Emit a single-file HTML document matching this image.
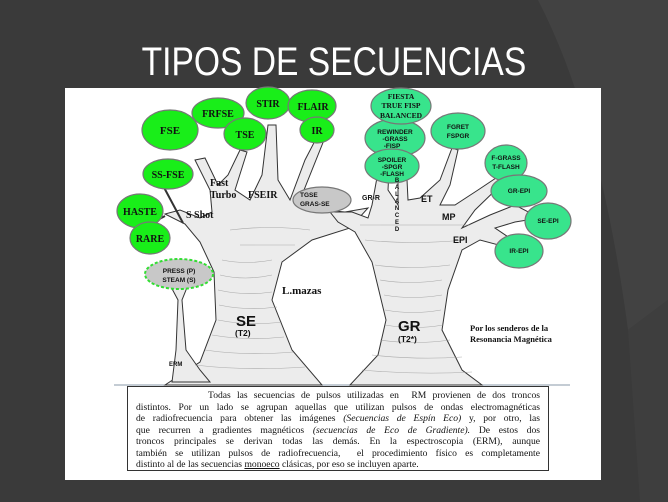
<!DOCTYPE html>
<html><head><meta charset="utf-8"><style>
html,body{margin:0;padding:0;}
body{width:668px;height:502px;background:#3a3a3a;position:relative;overflow:hidden;font-family:"Liberation Sans",sans-serif;}
.title{position:absolute;left:0;width:668px;top:40px;text-align:center;color:#fff;font-size:40px;line-height:44px;}
.title span{display:inline-block;transform:scaleX(0.84);}
.box{position:absolute;left:127px;top:386px;width:404px;height:77px;border:1.5px solid #333;padding:3px 8px 3px 8px;font-family:"Liberation Serif",serif;font-size:9.6px;line-height:11.5px;color:#111;background:#fff;}
.box div{text-align:justify;text-align-last:justify;white-space:nowrap;}
.box div.l{text-align-last:left;}
</style></head><body>
<svg width="668" height="502" style="position:absolute;left:0;top:0">
<path d="M538,0 Q600,120 628,330 L668,300 L668,0 Z" fill="#424242"/>
<path d="M628,330 L668,300 L668,502 L640,502 Z" fill="#3e3e3e"/>
<rect x="65" y="88" width="536" height="392" fill="#fff"/>
<line x1="114" y1="385" x2="570" y2="385" stroke="#8899aa" stroke-width="1"/>
<g stroke="#333" stroke-width="1" fill="#ececec">
<path d="M165,385 L200,362 L216,320 L214,272 L200,242 L185,224 L165,214 L180,210 L200,218 L212,212 L210,190 L195,160 L205,158 L218,185 L228,175 L240,150 L247,152 L235,190 L250,200 L262,175 L268,125 L276,125 L278,180 L290,200 L305,160 L318,135 L324,140 L300,200 L325,210 L345,212 L368,208 L350,228 L312,240 L282,262 L272,300 L292,350 L322,385 Z"/>
<path d="M160,212 L130,205 M165,216 L135,232 M183,223 L160,180" fill="none" stroke-width="2"/>
<path d="M172,382 L176,350 L178,300 L170,285 L188,285 L182,300 L186,350 L200,370 L210,382 Z"/>
<path d="M350,385 L378,355 L386,320 L372,262 L355,232 L338,222 L330,212 L352,212 L368,218 L372,205 L382,150 L390,150 L388,190 L398,205 L398,118 L404,118 L408,200 L420,198 L440,180 L452,148 L458,150 L450,185 L440,205 L455,205 L478,190 L505,172 L508,178 L475,210 L462,228 L490,215 L515,205 L540,218 L515,222 L495,228 L520,245 L510,248 L480,240 L462,250 L448,290 L442,330 L462,370 L482,385 Z"/>
</g>
<g stroke="#999" stroke-width="0.6" fill="none" opacity="0.8">
<path d="M222,260 q25,5 50,0 M220,275 q25,6 52,0 M218,290 q26,6 54,2 M219,305 q28,6 58,2 M218,320 q30,6 64,2 M212,335 q35,6 72,2 M205,350 q40,6 88,2 M195,365 q50,6 110,2 M230,230 q40,-5 80,0 M240,245 q30,0 55,0"/>
<path d="M375,265 q35,5 75,0 M380,280 q30,5 62,0 M384,295 q28,5 58,0 M385,310 q28,5 56,0 M385,325 q30,5 58,0 M380,340 q35,5 70,0 M372,355 q45,5 90,2 M362,370 q55,5 110,2 M365,240 q45,5 100,0 M360,225 q50,0 110,0"/>
</g>
<g stroke="#777" stroke-width="1.2">
<g fill="#19ee19">
<ellipse cx="170" cy="130" rx="28" ry="20"/>
<ellipse cx="218" cy="113" rx="26" ry="15"/>
<ellipse cx="245" cy="134" rx="21" ry="16"/>
<ellipse cx="268" cy="103" rx="22" ry="16"/>
<ellipse cx="312" cy="106" rx="24" ry="16"/>
<ellipse cx="317" cy="130" rx="17" ry="13"/>
<ellipse cx="168" cy="174" rx="25" ry="15"/>
<ellipse cx="140" cy="211" rx="23" ry="17"/>
<ellipse cx="150" cy="238" rx="20" ry="16"/>
</g>
<g fill="#38e48c">
<ellipse cx="395" cy="138" rx="30" ry="19"/>
<ellipse cx="392" cy="166" rx="27" ry="17"/>
<ellipse cx="401" cy="106" rx="30" ry="18"/>
<ellipse cx="458" cy="131" rx="27" ry="18"/>
<ellipse cx="506" cy="163" rx="21" ry="18"/>
<ellipse cx="519" cy="191" rx="28" ry="16"/>
<ellipse cx="548" cy="221" rx="23" ry="18"/>
<ellipse cx="519" cy="251" rx="24" ry="17"/>
</g>
<g fill="#c8c8c8">
<ellipse cx="322" cy="200" rx="29" ry="13"/>
<ellipse cx="179" cy="274" rx="34" ry="15" stroke="#33dd33" stroke-dasharray="3,2" stroke-width="2"/>
</g>
</g>
<g font-family="Liberation Serif,serif" font-weight="bold" fill="#111">
<text x="170" y="134" font-size="11" text-anchor="middle">FSE</text>
<text x="218" y="117" font-size="10" text-anchor="middle">FRFSE</text>
<text x="245" y="138" font-size="10" text-anchor="middle">TSE</text>
<text x="268" y="107" font-size="10" text-anchor="middle">STIR</text>
<text x="313" y="110" font-size="10" text-anchor="middle">FLAIR</text>
<text x="317" y="134" font-size="10" text-anchor="middle">IR</text>
<text x="168" y="178" font-size="10" text-anchor="middle">SS-FSE</text>
<text x="140" y="215" font-size="10" text-anchor="middle">HASTE</text>
<text x="150" y="242" font-size="10" text-anchor="middle">RARE</text>
<text x="210" y="186" font-size="10">Fast</text>
<text x="210" y="198" font-size="10">Turbo</text>
<text x="248" y="198" font-size="10">FSEIR</text>
<text x="186" y="218" font-size="10">S Shot</text>
<text x="282" y="294" font-size="11">L.mazas</text>
<text x="470" y="331" font-size="8.5">Por los senderos de la</text>
<text x="470" y="342" font-size="8.5">Resonancia Magnética</text>
<text x="401" y="99" font-size="7.5" text-anchor="middle">FIESTA</text>
<text x="401" y="108" font-size="7.5" text-anchor="middle">TRUE FISP</text>
<text x="401" y="118" font-size="7.5" text-anchor="middle">BALANCED</text>
</g>
<g font-family="Liberation Sans,sans-serif" font-weight="bold" fill="#111">
<text x="395" y="134" font-size="6.5" text-anchor="middle">REWINDER</text>
<text x="395" y="141" font-size="6.5" text-anchor="middle">-GRASS</text>
<text x="392" y="148" font-size="6.5" text-anchor="middle">-FISP</text>
<text x="392" y="162" font-size="6.5" text-anchor="middle">SPOILER</text>
<text x="392" y="169" font-size="6.5" text-anchor="middle">-SPGR</text>
<text x="392" y="176" font-size="6.5" text-anchor="middle">-FLASH</text>
<text x="458" y="129" font-size="6.5" text-anchor="middle">FGRET</text>
<text x="458" y="138" font-size="6.5" text-anchor="middle">FSPGR</text>
<text x="506" y="160" font-size="6.5" text-anchor="middle">F-GRASS</text>
<text x="506" y="169" font-size="6.5" text-anchor="middle">T-FLASH</text>
<text x="519" y="193" font-size="6.5" text-anchor="middle">GR-EPI</text>
<text x="548" y="223" font-size="6.5" text-anchor="middle">SE-EPI</text>
<text x="519" y="253" font-size="6.5" text-anchor="middle">IR-EPI</text>
<text x="300" y="197" font-size="6.5">TGSE</text>
<text x="300" y="206" font-size="6.5">GRAS-SE</text>
<text x="179" y="273" font-size="6.5" text-anchor="middle">PRESS (P)</text>
<text x="179" y="282" font-size="6.5" text-anchor="middle">STEAM (S)</text>
<text x="362" y="200" font-size="7">GR-R</text>
<text x="421" y="202" font-size="9">ET</text>
<text x="442" y="220" font-size="9">MP</text>
<text x="453" y="243" font-size="9">EPI</text>
<text x="236" y="326" font-size="15">SE</text>
<text x="235" y="336" font-size="8.5">(T2)</text>
<text x="398" y="331" font-size="15">GR</text>
<text x="398" y="342" font-size="8.5">(T2*)</text>
<text x="169" y="366" font-size="6">ERM</text>
<g font-size="6" text-anchor="middle"><text x="397" y="182">B</text><text x="397" y="189">A</text><text x="397" y="196">L</text><text x="397" y="203">A</text><text x="397" y="210">N</text><text x="397" y="217">C</text><text x="397" y="224">E</text><text x="397" y="231">D</text></g>
</g>
</svg>
<div class="title"><span>TIPOS DE SECUENCIAS</span></div>
<div class="box">
<div style="padding-left:72px">Todas las secuencias de pulsos utilizadas en &nbsp;RM provienen de dos troncos</div>
<div>distintos. Por un lado se agrupan aquellas que utilizan pulsos de ondas electromagnéticas</div>
<div>de radiofrecuencia para obtener las imágenes <i>(Secuencias de Espín Eco)</i> y, por otro, las</div>
<div>que recurren a gradientes magnéticos <i>(secuencias de Eco de Gradiente).</i> De estos dos</div>
<div>troncos principales se derivan todas las demás. En la espectroscopia (ERM), aunque</div>
<div>también se utilizan pulsos de radiofrecuencia, &nbsp;el procedimiento físico es completamente</div>
<div class="l">distinto al de las secuencias <u>monoeco</u> clásicas, por eso se incluyen aparte.</div>
</div>
</body></html>
